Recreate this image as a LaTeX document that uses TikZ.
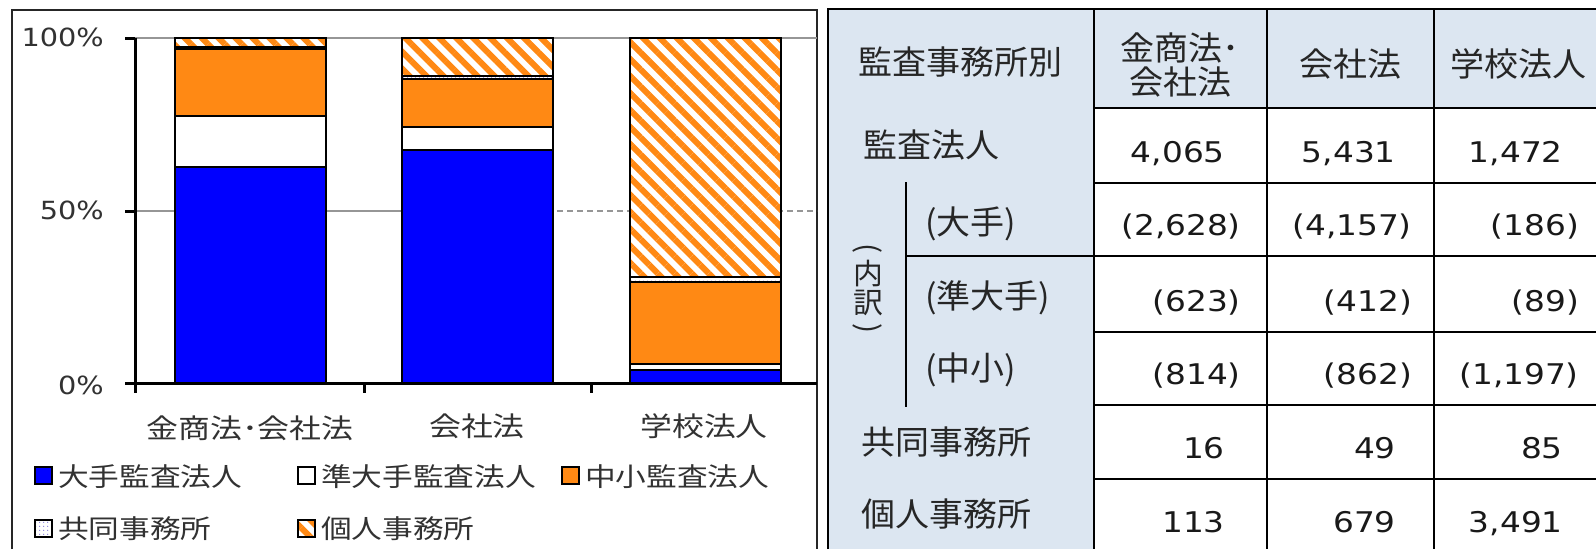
\documentclass[tikz,border=0pt]{standalone}
\usepackage{fontspec}
\usepackage{tikz}
\usetikzlibrary{patterns.meta}
\setmainfont[FakeStretch=1.15]{DejaVu Sans}
\newfontfamily\tabjp[FakeStretch=1.03]{Noto Sans CJK JP}
\newfontfamily\chartjp[FakeStretch=1.18]{Noto Sans CJK JP}

\definecolor{kblue}{RGB}{0,0,255}
\definecolor{korange}{RGB}{255,137,20}
\definecolor{kcell}{RGB}{220,230,241}
\definecolor{kgrid}{RGB}{150,150,150}
\definecolor{kdot}{RGB}{110,100,210}
\definecolor{ktext}{RGB}{50,50,50}

\tikzset{
  segbox/.style={draw=black, line width=2pt},
  joint/.style={preaction={fill=white}, pattern={Dots[distance=4pt,radius=0.7pt]}, pattern color=kdot},
  kojin/.style={preaction={fill=white}, pattern={Lines[angle=-45,distance=12pt,line width=6pt]}, pattern color=korange},
  pct/.style={anchor=east, inner sep=0pt, font=\fontsize{25}{30}\selectfont, text=ktext},
  cat/.style={inner sep=0pt, font=\chartjp\fontsize{27}{32}\selectfont, text=ktext},
  legtext/.style={anchor=west, inner sep=0pt, font=\chartjp\fontsize{26}{31}\selectfont, text=ktext},
  legbox/.style={draw=black, line width=1.5pt},
  rowlab/.style={anchor=west, inner sep=0pt, font=\tabjp\fontsize{33}{34}\selectfont, text=black!85},
  uchi/.style={anchor=center, inner sep=0pt, font=\tabjp\fontsize{29}{30}\selectfont, text=black!85},
  hdr/.style={inner sep=0pt, align=center, font=\tabjp\fontsize{33}{34}\selectfont, text=black!85},
  num/.style={anchor=base east, inner sep=0pt, font=\fontsize{28.5}{34}\selectfont, text=black!90},
  tabline/.style={draw=black, line width=2pt}
}

\begin{document}
\begin{tikzpicture}[x=1pt, y=-1pt]
  \useasboundingbox (0,0) rectangle (1596,549);
  \fill[white] (0,0) rectangle (1596,549);

  % chart
  \draw[line width=2.5pt, black!85] (12,549) -- (12,10) -- (817,10) -- (817,549);
  \draw[kgrid, line width=1.5pt] (135,38) -- (817,38);
  \draw[kgrid, line width=1.5pt] (135,211) -- (477,211);
  \draw[kgrid, line width=1.5pt, dash pattern=on 6pt off 4pt] (477,211) -- (817,211);

  \foreach \cx/\a/\b/\c/\d/\e in {250/2628/623/814/16/113, 477/4157/412/862/49/679, 705/186/89/1197/85/3491}{
    \pgfmathsetmacro\tot{\a+\b+\c+\d+\e}
    \pgfmathsetmacro\ya{383-345*(\a/\tot)}
    \pgfmathsetmacro\yb{383-345*((\a+\b)/\tot)}
    \pgfmathsetmacro\yc{383-345*((\a+\b+\c)/\tot)}
    \pgfmathsetmacro\yd{383-345*((\a+\b+\c+\d)/\tot)}
    \draw[segbox, fill=kblue] (\cx-75.5,383) rectangle (\cx+75.5,\ya);
    \draw[segbox, fill=white] (\cx-75.5,\ya) rectangle (\cx+75.5,\yb);
    \draw[segbox, fill=korange] (\cx-75.5,\yb) rectangle (\cx+75.5,\yc);
    \draw[segbox, joint] (\cx-75.5,\yc) rectangle (\cx+75.5,\yd);
    \draw[segbox, kojin] (\cx-75.5,\yd) rectangle (\cx+75.5,38);
  }

  \draw[line width=3pt] (135,38) -- (135,393);
  \draw[line width=3pt] (125,383) -- (817,383);
  \foreach \ty in {38,211} \draw[line width=3pt] (125,\ty) -- (135,\ty);
  \foreach \tx in {364,591} \draw[line width=3pt] (\tx,383) -- (\tx,393);

  \node[pct] (p100) at (104,37) {100\%};
  \node[pct] (p50) at (104,210) {50\%};
  \node[pct] (p0) at (104,385) {0\%};

  \node[cat] (cat1) at (250,428) {金商法･会社法};
  \node[cat] (cat2) at (477,426) {会社法};
  \node[cat] (cat3) at (704,426) {学校法人};

  \draw[legbox, fill=kblue] (35,467) rectangle ++(17,17);
  \draw[legbox, fill=white] (298,467) rectangle ++(17,17);
  \draw[legbox, fill=korange] (562,467) rectangle ++(17,17);
  \draw[legbox, joint] (35,520) rectangle ++(17,17);
  \draw[legbox, kojin] (298,520) rectangle ++(17,17);
  \node[legtext] (leg1) at (58,477) {大手監査法人};
  \node[legtext] (leg2) at (321,477) {準大手監査法人};
  \node[legtext] (leg3) at (585,477) {中小監査法人};
  \node[legtext] (leg4) at (58,529) {共同事務所};
  \node[legtext] (leg5) at (321,529) {個人事務所};

  % table
  \fill[kcell] (828,9) rectangle (1094,549);
  \fill[kcell] (1094,9) rectangle (1596,108);
  \draw[tabline] (828,549) -- (828,9) -- (1596,9);
  \foreach \vx in {1094,1267,1434} \draw[tabline] (\vx,9) -- (\vx,549);
  \foreach \hy in {108,183,256,332,405,479} \draw[tabline] (1094,\hy) -- (1596,\hy);
  \draw[tabline] (906,182) -- (906,407);
  \draw[tabline] (906,256) -- (1094,256);

  \node[rowlab] (r0) at (858,62) {監査事務所別};
  \node[hdr] (h1) at (1180,65) {金商法･\\会社法};
  \node[hdr] (h2) at (1350,64) {会社法};
  \node[hdr] (h3) at (1518,64) {学校法人};

  \node[rowlab] (r1) at (863,145) {監査法人};
  \node[rowlab] (r2) at (925,224) {(大手)};
  \node[rowlab] (r3) at (925,298) {(準大手)};
  \node[rowlab] (r4) at (925,370) {(中小)};
  \node[rowlab] (r5) at (861,442) {共同事務所};
  \node[rowlab] (r6) at (861,514) {個人事務所};

  \node[uchi, rotate=-90] (uchi1) at (868,249) {(};
  \node[uchi] (uchi2) at (868,274) {内};
  \node[uchi] (uchi3) at (868,303) {訳};
  \node[uchi, rotate=-90] (uchi4) at (868,329) {)};

  \foreach \y/\off/\p/\q/\r [count=\i] in {162/0/{4,065}/{5,431}/{1,472}, 235/16/{(2,628)}/{(4,157)}/{(186)}, 311/16/{(623)}/{(412)}/{(89)}, 384/16/{(814)}/{(862)}/{(1,197)}, 458/0/16/49/85, 532/0/113/679/{3,491}}{
    \node[num] (n\i-a) at (1225+\off,\y) {\p};
    \node[num] (n\i-b) at (1396+\off,\y) {\q};
    \node[num] (n\i-c) at (1563+\off,\y) {\r};
  }
\end{tikzpicture}
\end{document}
